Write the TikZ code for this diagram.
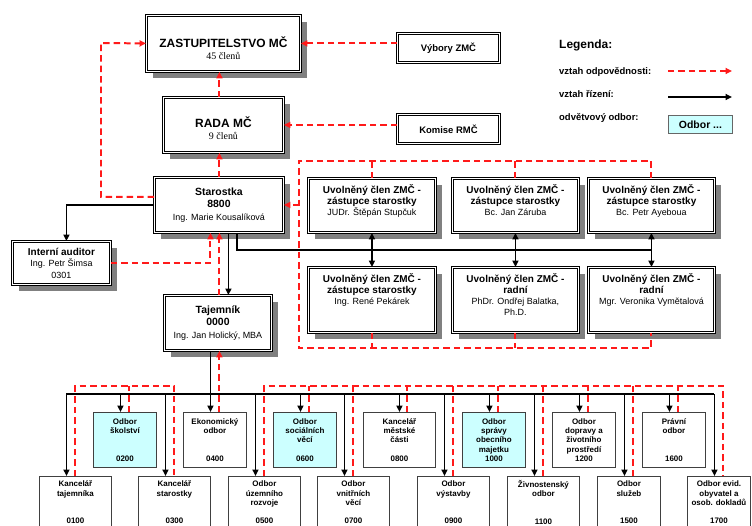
\documentclass[tikz,border=0pt]{standalone}
\usepackage{fontspec}
\setmainfont{Liberation Sans}
\newfontfamily\timesfont{Liberation Serif}
\usepackage{xcolor}
\usepackage{tikz}
\usetikzlibrary{arrows.meta,shadows}

\definecolor{odborcyan}{HTML}{CCFFFF}
\definecolor{respred}{HTML}{FF1A1A}
\newcommand{\fsz}[2]{\fontsize{#1}{#2}\selectfont}

\begin{document}
\begin{tikzpicture}[
  x=1bp, y=-1bp,
  frame/.style={draw, double, double distance=1.2pt, line width=0.9pt, fill=white, align=center, anchor=north west, inner sep=0pt},
  head/.style={frame, drop shadow={shadow xshift=7pt, shadow yshift=-7pt, opacity=1, fill=black!50}},
  odbor/.style={draw=black!75, line width=0.9pt, fill=white, align=center, anchor=north west, inner sep=0pt, minimum height=55bp, minimum width=63bp, font=\bfseries\fsz{8}{9.25}},
  sekt/.style={odbor, fill=odborcyan},
  dolni/.style={odbor, minimum height=52bp},
  clen/.style={head, font=\bfseries\fsz{10}{11}},
  legtext/.style={anchor=base west, inner sep=0pt, font=\bfseries\fsz{9.5}{11}},
  line/.style={line width=1.8pt},
  ctrl/.style={line, -{Triangle[length=6.5pt,width=6pt]}},
  both/.style={line, {Triangle[length=6.5pt,width=6pt]}-{Triangle[length=6.5pt,width=6pt]}},
  resp/.style={respred, line width=2pt, dash pattern=on 6.5pt off 4pt},
  rarr/.style={resp, -{Triangle[length=6.5pt,width=6pt]}}
]
  \useasboundingbox (0,0) rectangle (752,526);
  \clip (0,0) rectangle (752,526);

  % vedeni
  \node[head, minimum width=154bp, minimum height=56bp] (zast) at (146,15) {\rule{0pt}{19.5pt}{\fsz{12}{14}\bfseries ZASTUPITELSTVO MČ}\\{\timesfont\fsz{10}{12}45 členů}};
  \node[head, minimum width=120bp, minimum height=55bp] (rada) at (163,97) {\rule{0pt}{17.5pt}{\fsz{12}{14}\bfseries RADA MČ}\\{\timesfont\fsz{10}{12}9 členů}};
  \node[head, font=\bfseries\fsz{10.5}{12.5}, minimum width=129bp, minimum height=55bp] (starostka) at (154,177) {Starostka\\8800\\{\mdseries\fsz{9}{11}Ing. Marie Kousalíková}};
  \node[head, font=\bfseries\fsz{10}{11.5}, minimum width=98bp, minimum height=43bp] (auditor) at (12,241) {Interní auditor\\{\mdseries\fsz{9}{11}Ing. Petr Šimsa}\\{\mdseries\fsz{9}{11}0301}};
  \node[head, font=\bfseries\fsz{10.5}{12.5}, minimum width=107bp, minimum height=55bp] (tajemnik) at (164,295) {Tajemník\\0000\\{\mdseries\fsz{9}{11}Ing. Jan Holický, MBA}};
  \node[frame, font=\bfseries\fsz{9.5}{11}, minimum width=102bp, minimum height=29bp] (vybory) at (397,33) {Výbory ZMČ};
  \node[frame, font=\bfseries\fsz{9.5}{11}, minimum width=102bp, minimum height=29bp] (komise) at (397,114) {Komise RMČ};

  % uvolneni clenove
  \node[clen, minimum width=127bp, minimum height=54bp] (m1) at (308,178) {Uvolněný člen ZMČ -\\zástupce starostky\\{\mdseries\fsz{9}{11}JUDr. Štěpán Stupčuk}\\~};
  \node[clen, minimum width=126bp, minimum height=54bp] (m2) at (452,178) {Uvolněný člen ZMČ -\\zástupce starostky\\{\mdseries\fsz{9}{11}Bc. Jan Záruba}\\~};
  \node[clen, minimum width=126bp, minimum height=54bp] (m3) at (588,178) {Uvolněný člen ZMČ -\\zástupce starostky\\{\mdseries\fsz{9}{11}Bc. Petr Ayeboua}\\~};
  \node[clen, minimum width=127bp, minimum height=65bp] (m4) at (308,267) {Uvolněný člen ZMČ -\\zástupce starostky\\{\mdseries\fsz{9}{11}Ing. René Pekárek}\\~\\~};
  \node[clen, minimum width=126bp, minimum height=65bp] (m5) at (452,267) {Uvolněný člen ZMČ -\\radní\\{\mdseries\fsz{9}{11}PhDr. Ondřej Balatka,}\\{\mdseries\fsz{9}{11}Ph.D.}\\~};
  \node[clen, minimum width=126bp, minimum height=65bp] (m6) at (588,267) {Uvolněný člen ZMČ -\\radní\\{\mdseries\fsz{9}{11}Mgr. Veronika Vymětalová}\\~\\~};

  % legenda
  \node[legtext, font=\bfseries\fsz{12}{14}] (legtitle) at (559,49) {Legenda:};
  \node[legtext] (legresp) at (559,75) {vztah odpovědnosti:};
  \node[legtext] (legctrl) at (559,98) {vztah řízení:};
  \node[legtext] (legodbor) at (559,121) {odvětvový odbor:};
  \node[draw=black!60, line width=0.9pt, fill=odborcyan, anchor=north west, inner sep=0pt, minimum width=64bp, minimum height=18bp, font=\bfseries\fsz{10.5}{12}] (legbox) at (668,115) {Odbor ...};
  \coordinate (lra) at (668,71);
  \coordinate (lrb) at (732,71);
  \coordinate (lca) at (668,97);
  \coordinate (lcb) at (732,97);
  \draw[rarr] (lra) -- (lrb);
  \draw[ctrl] (lca) -- (lcb);

  % odbory - horni rada
  \node[sekt] (o0200) at (93,412) {Odbor\\školství\\~\\~\\0200};
  \node[odbor] (o0400) at (183,412) {Ekonomický\\odbor\\~\\~\\0400};
  \node[sekt] (o0600) at (273,412) {Odbor\\sociálních\\věcí\\~\\0600};
  \node[odbor, minimum width=72bp] (o0800) at (363,412) {Kancelář\\městské\\části\\~\\0800};
  \node[sekt] (o1000) at (462,412) {Odbor\\správy\\obecního\\majetku\\1000};
  \node[odbor] (o1200) at (552,412) {Odbor\\dopravy a\\životního\\prostředí\\1200};
  \node[odbor] (o1600) at (642,412) {Právní\\odbor\\~\\~\\1600};
  % odbory - dolni rada
  \node[dolni, minimum width=72bp] (o0100) at (39,476) {Kancelář\\tajemníka\\~\\~\\0100};
  \node[dolni, minimum width=72bp] (o0300) at (138,476) {Kancelář\\starostky\\~\\~\\0300};
  \node[dolni, minimum width=72bp] (o0500) at (228,476) {Odbor\\územního\\rozvoje\\~\\0500};
  \node[dolni, minimum width=72bp] (o0700) at (317,476) {Odbor\\vnitřních\\věcí\\~\\0700};
  \node[dolni, minimum width=72bp] (o0900) at (417,476) {Odbor\\výstavby\\~\\~\\0900};
  \node[dolni, minimum width=72bp] (o1100) at (507,476) {Živnostenský\\odbor\\~\\~\\1100};
  \node[dolni] (o1500) at (597,476) {Odbor\\služeb\\~\\~\\1500};
  \node[dolni] (o1700) at (687,476) {Odbor evid.\\obyvatel a\\osob. dokladů\\~\\1700};

  % odpovednost nahoru
  \coordinate (zl) at (101,43);
  \draw[rarr] ([yshift=8pt]starostka.west) -| (zl) -- (zast.west);
  \draw[rarr] ([xshift=-4pt]rada.north) -- ([xshift=-4pt]rada.north |- zast.south);
  \draw[rarr] ([xshift=0.5pt]starostka.north) -- ([xshift=0.5pt]starostka.north |- rada.south);
  \draw[rarr] (vybory.west |- zast.east) -- (zast.east);
  \draw[rarr] (komise.west |- rada.east) -- (rada.east);
  \draw[rarr] (auditor.east) -| ([xshift=-8.5pt]starostka.south);
  \draw[rarr] ([xshift=1.5pt]tajemnik.north) -- ([xshift=1.5pt]tajemnik.north |- starostka.south);

  % rizeni od starostky
  \draw[ctrl] (starostka.west) -| ([xshift=5pt]auditor.north);
  \draw[ctrl] ([xshift=9.5pt]starostka.south) -- ([xshift=9.5pt]starostka.south |- tajemnik.north);
  \coordinate (mbus) at (0,250);
  \draw[line] ([xshift=18.5pt]starostka.south) |- (m3.south |- mbus);
  \draw[both] (m1.south) -- (m4.north);
  \draw[both] (m2.south) -- (m5.north);
  \draw[both] (m3.south) -- (m6.north);

  % odpovednost clenu
  \coordinate (rtop) at (299,161);
  \coordinate (rbot) at (299,348);
  \draw[resp] (m3.north) |- (rtop) -- (rbot) -| (m6.south);
  \draw[resp] (m1.north) -- (m1.north |- rtop);
  \draw[resp] (m2.north) -- (m2.north |- rtop);
  \draw[resp] (m4.south) -- (m4.south |- rbot);
  \draw[resp] (m5.south) -- (m5.south |- rbot);
  \draw[rarr] (rtop |- starostka.east) -- (starostka.east);

  % rizeni od tajemnika
  \coordinate (bbus) at (0,394);
  \coordinate (rbus) at (0,386);
  \draw[line] ([xshift=-9pt]o0100.north |- bbus) -- ([xshift=-4.5pt]o1700.north |- bbus);
  \draw[ctrl] ([xshift=-4.5pt]o0400.north |- tajemnik.south) -- ([xshift=-4.5pt]o0400.north);
  \draw[ctrl] ([xshift=-9pt]o0100.north |- bbus) -- ([xshift=-9pt]o0100.north);
  \draw[ctrl] ([xshift=-4.5pt]o0200.north |- bbus) -- ([xshift=-4.5pt]o0200.north);
  \draw[ctrl] ([xshift=-9pt]o0300.north |- bbus) -- ([xshift=-9pt]o0300.north);
  \draw[ctrl] ([xshift=-9pt]o0500.north |- bbus) -- ([xshift=-9pt]o0500.north);
  \draw[ctrl] ([xshift=-4.5pt]o0600.north |- bbus) -- ([xshift=-4.5pt]o0600.north);
  \draw[ctrl] ([xshift=-9pt]o0700.north |- bbus) -- ([xshift=-9pt]o0700.north);
  \draw[ctrl] (o0800.north |- bbus) -- (o0800.north);
  \draw[ctrl] ([xshift=-9pt]o0900.north |- bbus) -- ([xshift=-9pt]o0900.north);
  \draw[ctrl] ([xshift=-4.5pt]o1000.north |- bbus) -- ([xshift=-4.5pt]o1000.north);
  \draw[ctrl] ([xshift=-9pt]o1100.north |- bbus) -- ([xshift=-9pt]o1100.north);
  \draw[ctrl] ([xshift=-4.5pt]o1200.north |- bbus) -- ([xshift=-4.5pt]o1200.north);
  \draw[ctrl] ([xshift=-4.5pt]o1500.north |- bbus) -- ([xshift=-4.5pt]o1500.north);
  \draw[ctrl] ([xshift=-4.5pt]o1600.north |- bbus) -- ([xshift=-4.5pt]o1600.north);
  \draw[ctrl] ([xshift=-4.5pt]o1700.north |- bbus) -- ([xshift=-4.5pt]o1700.north);

  % odpovednost odboru
  \draw[rarr] ([xshift=4.5pt]o0400.north) -- ([xshift=4.5pt]o0400.north |- tajemnik.south);
  \draw[resp] (o0100.north) |- (o0300.north |- rbus) -- (o0300.north);
  \draw[resp] ([xshift=4.5pt]o0200.north) -- ([xshift=4.5pt]o0200.north |- rbus);
  \draw[resp] (o0500.north) |- ([xshift=4.5pt]o1700.north |- rbus) -- ([xshift=4.5pt]o1700.north);
  \draw[resp] ([xshift=4.5pt]o0600.north) -- ([xshift=4.5pt]o0600.north |- rbus);
  \draw[resp] (o0700.north) -- (o0700.north |- rbus);
  \draw[resp] ([xshift=8pt]o0800.north) -- ([xshift=8pt]o0800.north |- rbus);
  \draw[resp] (o0900.north) -- (o0900.north |- rbus);
  \draw[resp] ([xshift=4.5pt]o1000.north) -- ([xshift=4.5pt]o1000.north |- rbus);
  \draw[resp] (o1100.north) -- (o1100.north |- rbus);
  \draw[resp] ([xshift=4.5pt]o1200.north) -- ([xshift=4.5pt]o1200.north |- rbus);
  \draw[resp] ([xshift=4.5pt]o1500.north) -- ([xshift=4.5pt]o1500.north |- rbus);
  \draw[resp] ([xshift=4.5pt]o1600.north) -- ([xshift=4.5pt]o1600.north |- rbus);
\end{tikzpicture}
\end{document}
